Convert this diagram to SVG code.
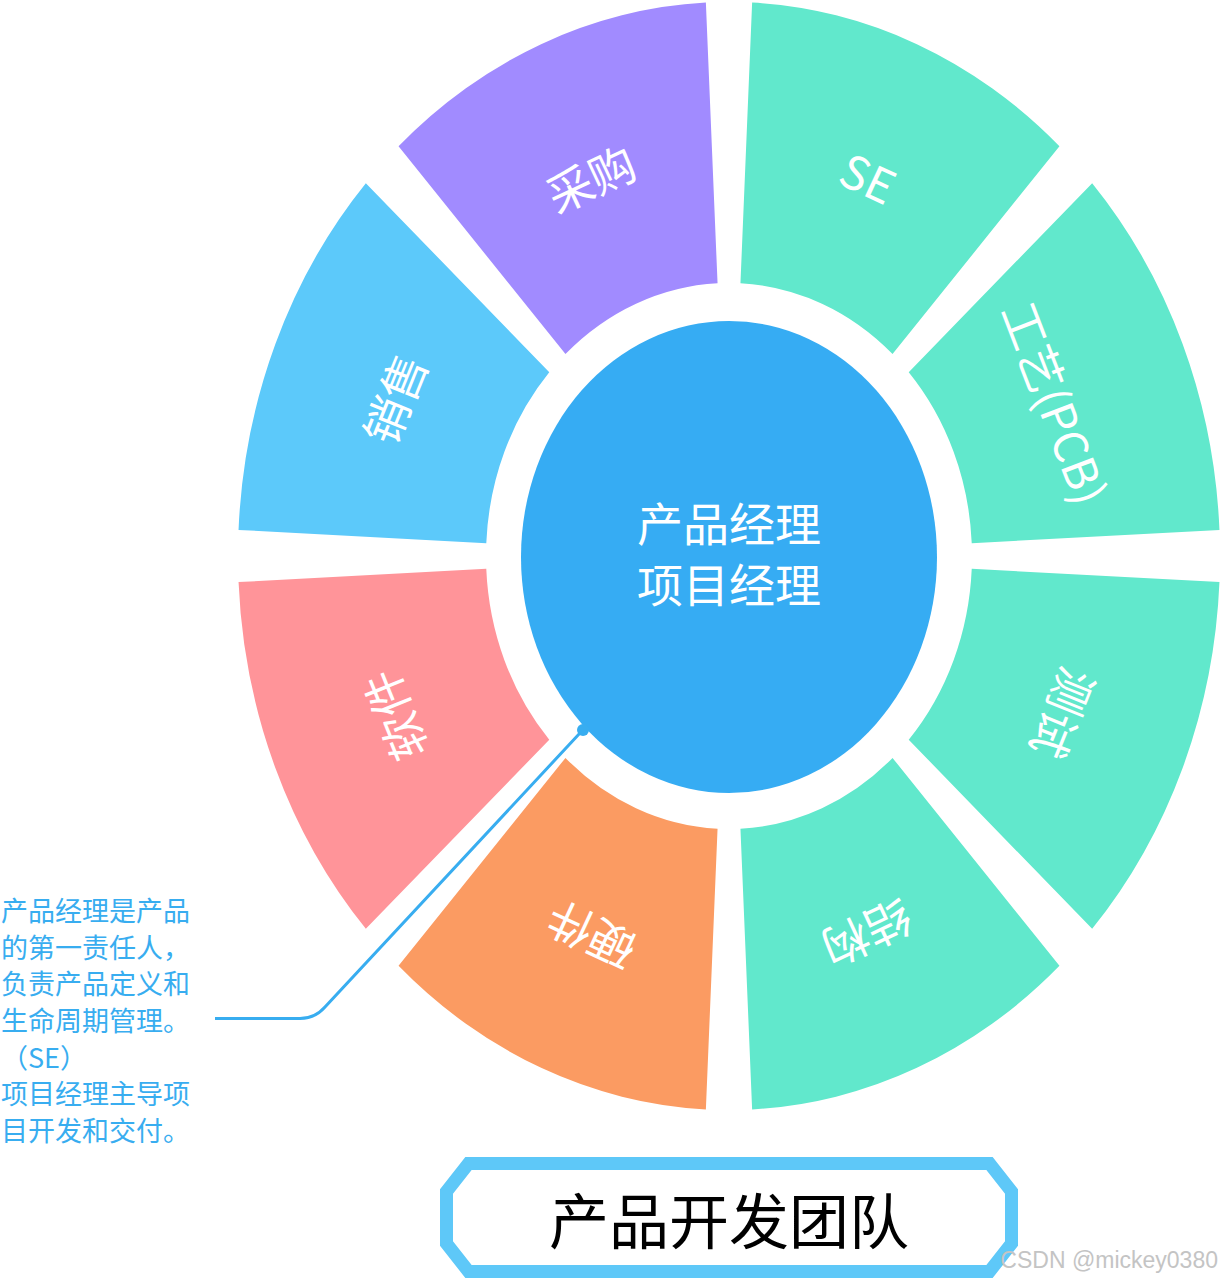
<svg xmlns="http://www.w3.org/2000/svg" width="1222" height="1280" viewBox="0 0 1222 1280">
<style>
.lbl{font-family:"Noto Sans CJK SC","Noto Sans",sans-serif;font-size:46px;fill:#fff;text-anchor:middle;dominant-baseline:central}
.ctr{font-family:"Noto Sans CJK SC","Noto Sans",sans-serif;font-size:46px;fill:#fff;text-anchor:middle}
.note{font-family:"Noto Sans CJK SC","Noto Sans",sans-serif;font-size:27px;fill:#38ADF0}
.title{font-family:"Noto Sans CJK SC","Noto Sans",sans-serif;font-size:60px;fill:#000;text-anchor:middle;dominant-baseline:central}
.teal{fill:#61E8CC}
</style>
<rect width="1222" height="1280" fill="#fff"/>
<g id="node-gongyi"><path class="teal" d="M1092.16,183.15 A491,554 0 0 1 1219.45,529.90 L971.73,543.14 A243,273 0 0 0 908.73,372.27 Z"/><text class="lbl" transform="translate(1057,402) rotate(69)">工艺(PCB)</text></g>
<g id="node-ceshi"><path class="teal" d="M1219.45,582.10 A491,554 0 0 1 1092.16,928.85 L908.73,739.73 A243,273 0 0 0 971.73,568.86 Z"/><text class="lbl" transform="translate(1065,714) rotate(112)">测试</text></g>
<g id="node-jiegou"><path class="teal" d="M1059.45,965.76 A491,554 0 0 1 752.13,1109.39 L740.45,828.70 A243,273 0 0 0 892.54,757.92 Z"/><text class="lbl" transform="translate(868,935) rotate(155)">结构</text></g>
<g id="node-yingjian"><path fill="#FB9B62" d="M705.87,1109.39 A491,554 0 0 1 398.55,965.76 L565.46,757.92 A243,273 0 0 0 717.55,828.70 Z"/><text class="lbl" transform="translate(590,937) rotate(205)">硬件</text></g>
<g id="node-ruanjian"><path fill="#FF9499" d="M365.84,928.85 A491,554 0 0 1 238.55,582.10 L486.27,568.86 A243,273 0 0 0 549.27,739.73 Z"/><text class="lbl" transform="translate(393,716) rotate(248)">软件</text></g>
<g id="node-xiaoshou"><path fill="#5CC9FA" d="M238.55,529.90 A491,554 0 0 1 365.84,183.15 L549.27,372.27 A243,273 0 0 0 486.27,543.14 Z"/><text class="lbl" transform="translate(393,398) rotate(-68)">销售</text></g>
<g id="node-caigou"><path fill="#A18BFF" d="M398.55,146.24 A491,554 0 0 1 705.87,2.61 L717.55,283.30 A243,273 0 0 0 565.46,354.08 Z"/><text class="lbl" transform="translate(590,177) rotate(-25)">采购</text></g>
<g id="node-se"><path class="teal" d="M752.13,2.61 A491,554 0 0 1 1059.45,146.24 L892.54,354.08 A243,273 0 0 0 740.45,283.30 Z"/><text class="lbl" transform="translate(869,176) rotate(25)">SE</text></g>
<g id="node-center"><ellipse cx="729" cy="557" rx="208" ry="236" fill="#36ACF3"/><text class="ctr" x="729" y="541">产品经理</text><text class="ctr" x="729" y="602">项目经理</text></g>
<g id="connectors"><path d="M215,1018.5 H300 Q315,1018.5 325,1007 L580,733" fill="none" stroke="#38ADF0" stroke-width="3"/><circle cx="583" cy="730" r="6" fill="#38ADF0"/></g>
<g id="node-note"><text class="note" x="1" y="921">产品经理是产品</text><text class="note" x="1" y="957.7">的第一责任人，</text><text class="note" x="1" y="994.3">负责产品定义和</text><text class="note" x="1" y="1031">生命周期管理。</text><text class="note" x="1" y="1067.7">（SE）</text><text class="note" x="1" y="1104.3">项目经理主导项</text><text class="note" x="1" y="1141">目开发和交付。</text></g>
<g id="node-title"><polygon points="468.5,1163.5 989.5,1163.5 1011.5,1191.5 1011.5,1243.5 989.5,1271.5 468.5,1271.5 446.5,1243.5 446.5,1191.5" fill="#fff" stroke="#5EC8F8" stroke-width="13"/><text class="title" x="729" y="1217">产品开发团队</text></g>
<text x="1218" y="1268" font-family="Liberation Sans, Arial, sans-serif" font-size="23" fill="#c4c4c4" text-anchor="end">CSDN @mickey0380</text>
</svg>
